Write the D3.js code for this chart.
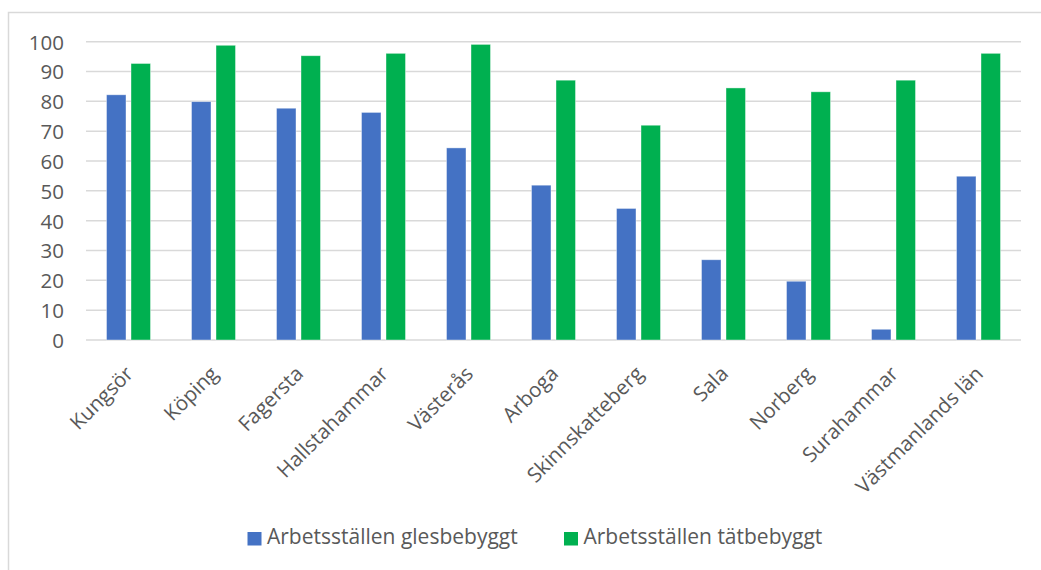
<!DOCTYPE html>
<html><head><meta charset="utf-8">
<script src="https://cdn.jsdelivr.net/npm/d3@7"></script>
<style>body{margin:0;background:#fff;}svg{display:block;font-family:"Open Sans",sans-serif;}</style>
</head><body>
<svg id="c" width="1041" height="570"></svg>
<script>
const categories = ["Kungsör","Köping","Fagersta","Hallstahammar","Västerås","Arboga","Skinnskatteberg","Sala","Norberg","Surahammar","Västmanlands län"];
const glesbebyggt = [82.2,79.9,77.7,76.3,64.4,51.9,44.1,26.9,19.7,3.6,54.9];
const tatbebyggt = [92.7,98.8,95.3,96.1,99.1,87.1,72.0,84.5,83.2,87.1,96.1];
const seriesNames = ["Arbetsställen glesbebyggt","Arbetsställen tätbebyggt"];
const seriesColors = ["#4472C4","#00B050"];
const yTicks = [0,10,20,30,40,50,60,70,80,90,100];

const svg = d3.select("#c");
// chart border
svg.append("rect").attr("x",8.5).attr("y",12.5).attr("width",1100).attr("height",600)
  .attr("fill","none").attr("stroke","#d9d9d9").attr("stroke-width",1.5);

const pLeft=86, pRight=1021, pTop=41.7, pBottom=340;
const x = d3.scaleBand().domain(categories).range([pLeft,pRight]);
const y = d3.scaleLinear().domain([0,100]).range([pBottom,pTop]);

// gridlines
svg.append("g").selectAll("line").data(yTicks).join("line")
  .attr("x1",pLeft).attr("x2",pRight).attr("y1",d=>y(d)).attr("y2",d=>y(d))
  .attr("stroke","#d9d9d9").attr("stroke-width",1.5);

// y axis labels
const yAxis = d3.axisLeft(y).tickValues(yTicks).tickSize(0).tickPadding(0);
const yg = svg.append("g").attr("transform",`translate(64,0)`).call(yAxis);
yg.select(".domain").remove();
yg.selectAll("text").attr("font-size",20.5).attr("fill","#595959").attr("font-family","Open Sans, sans-serif").attr("dy","0.36em");

const bw = 19.5, gap = 5;
const sub = d3.scaleOrdinal().domain([0,1]).range([-(bw+gap/2), gap/2]);
[glesbebyggt, tatbebyggt].forEach((vals,si)=>{
  svg.append("g").selectAll("rect").data(vals).join("rect")
    .attr("x",(d,i)=>x(categories[i])+x.bandwidth()/2+sub(si))
    .attr("width",bw)
    .attr("y",d=>y(d))
    .attr("height",d=>y(0)-y(d))
    .attr("fill",seriesColors[si])
    .attr("stroke","#ffffff").attr("stroke-opacity",0.5).attr("stroke-width",0.8);
});

// x axis labels
const xAxis = d3.axisBottom(x).tickSize(0).tickPadding(0);
const xg = svg.append("g").attr("transform",`translate(0,${pBottom})`).call(xAxis);
xg.select(".domain").remove();
xg.selectAll("text")
  .attr("font-size",20.5).attr("fill","#595959").attr("font-family","Open Sans, sans-serif")
  .attr("text-anchor","end").attr("dy",0).attr("y",0)
  .attr("transform","translate(6,35) rotate(-45)");

// legend
const lg = svg.append("g");
const lx = [247.5, 564];
seriesNames.forEach((n,i)=>{
  lg.append("rect").attr("x",lx[i]).attr("y",532).attr("width",14).attr("height",13.5).attr("fill",seriesColors[i]);
  lg.append("text").attr("x",lx[i]+19.5).attr("y",544).text(n)
    .attr("font-size",21).attr("fill","#595959");
});
</script>
</body></html>
